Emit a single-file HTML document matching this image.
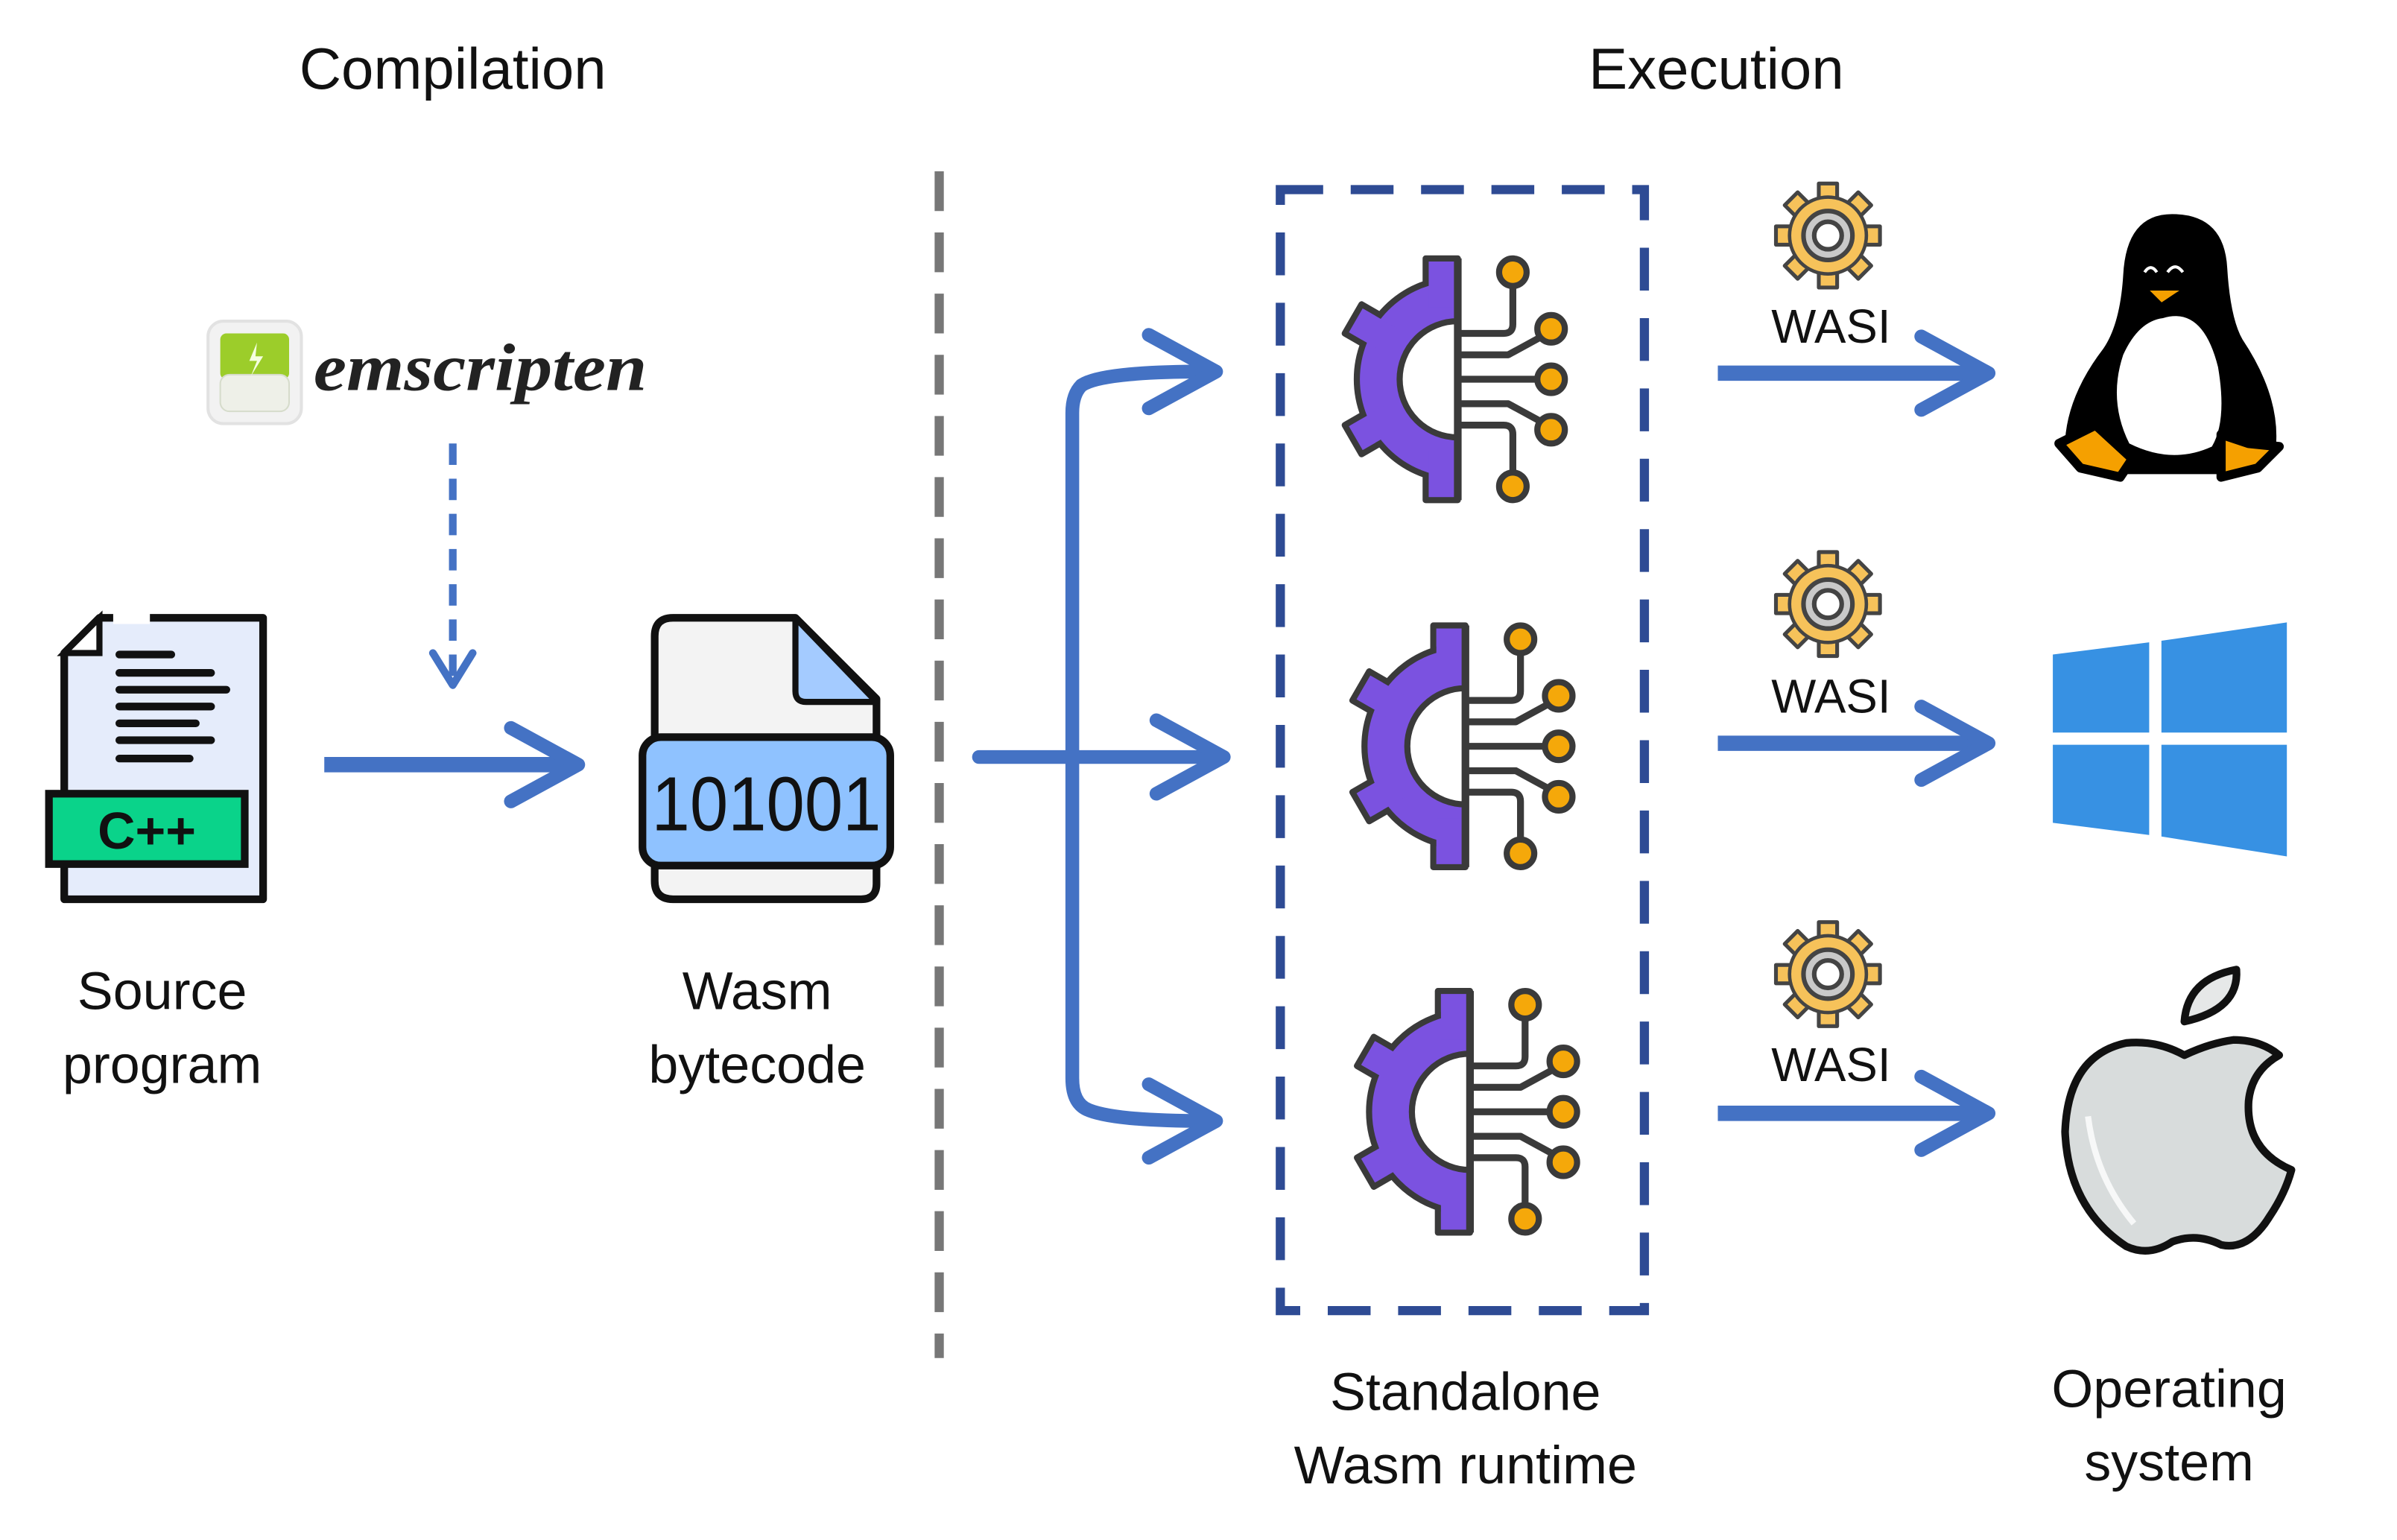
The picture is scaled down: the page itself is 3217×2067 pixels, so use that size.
<!DOCTYPE html>
<html><head><meta charset="utf-8"><style>
html,body{margin:0;padding:0;background:#fff;}
svg{display:block;}
text{font-family:"Liberation Sans",sans-serif;fill:#111;}
</style></head><body>
<svg width="3217" height="2067" viewBox="0 0 1567 1007" preserveAspectRatio="none" xmlns="http://www.w3.org/2000/svg">
<defs>
<g id="gear">
  <g fill="#7b52e0" stroke="#3a3a3a" stroke-width="4" stroke-linejoin="round">
    <rect x="-79" y="-11" width="26" height="22" transform="rotate(30)"/>
    <rect x="-79" y="-11" width="26" height="22" transform="rotate(-30)"/>
    <rect x="-21" y="-79" width="21" height="28"/>
    <rect x="-21" y="51" width="21" height="28"/>
    <path d="M0,-66 A66,66 0 0 0 0,66 L0,38 A38,38 0 0 1 0,-38 Z"/>
  </g>
  <g fill="#7b52e0">
    <rect x="-76" y="-9" width="25" height="18" transform="rotate(30)"/>
    <rect x="-76" y="-9" width="25" height="18" transform="rotate(-30)"/>
    <rect x="-19" y="-77" width="17" height="30"/>
    <rect x="-19" y="47" width="17" height="30"/>
  </g>
  <line x1="0" y1="-79" x2="0" y2="79" stroke="#3a3a3a" stroke-width="5"/>
  <g fill="none" stroke="#3a3a3a" stroke-width="4.5" stroke-linejoin="round">
    <path d="M0,-30 H30 Q36,-30 36,-36 V-60"/>
    <path d="M0,-16 H33 L55,-28"/>
    <path d="M0,0 H52"/>
    <path d="M0,16 H33 L55,28"/>
    <path d="M0,30 H30 Q36,30 36,36 V60"/>
  </g>
  <g fill="#f5a80a" stroke="#3a3a3a" stroke-width="4">
    <circle cx="36" cy="-70" r="9"/>
    <circle cx="61" cy="-33" r="9"/>
    <circle cx="61" cy="0" r="9"/>
    <circle cx="61" cy="33" r="9"/>
    <circle cx="36" cy="70" r="9"/>
  </g>
</g>
<g id="wasi">
  <g fill="#f6c25a" stroke="#444" stroke-width="2.5" stroke-linejoin="round">
    <rect x="-6" y="-34" width="12" height="14"/>
    <rect x="-6" y="-34" width="12" height="14" transform="rotate(45)"/>
    <rect x="-6" y="-34" width="12" height="14" transform="rotate(90)"/>
    <rect x="-6" y="-34" width="12" height="14" transform="rotate(135)"/>
    <rect x="-6" y="-34" width="12" height="14" transform="rotate(180)"/>
    <rect x="-6" y="-34" width="12" height="14" transform="rotate(225)"/>
    <rect x="-6" y="-34" width="12" height="14" transform="rotate(270)"/>
    <rect x="-6" y="-34" width="12" height="14" transform="rotate(315)"/>
    <circle r="25"/>
  </g>
  <circle r="24" fill="#f6c25a"/>
  <circle r="16" fill="#c9c9c9" stroke="#444" stroke-width="3"/>
  <circle r="9" fill="#fff" stroke="#444" stroke-width="3"/>
</g>
<g id="head" fill="none" stroke="#4472c4" stroke-width="9" stroke-linecap="round" stroke-linejoin="round">
  <path d="M-44,-24 L0,0 L-44,24"/>
</g>
</defs>

<text x="296" y="58" font-size="38" text-anchor="middle">Compilation</text>
<text x="1122" y="58" font-size="38" text-anchor="middle">Execution</text>

<line x1="614" y1="112" x2="614" y2="888" stroke="#777" stroke-width="6" stroke-dasharray="26,14"/>
<rect x="837" y="124" width="238" height="733" fill="none" stroke="#2e4b94" stroke-width="6" stroke-dasharray="28,18"/>

<!-- emscripten -->
<rect x="136" y="210" width="61" height="67" rx="10" fill="#f2f2f2" stroke="#e2e2e2" stroke-width="2"/>
<rect x="144" y="218" width="45" height="30" rx="4" fill="#9ccd2a"/>
<rect x="144" y="245" width="45" height="24" rx="6" fill="#eef0e8" stroke="#d6dccb"/>
<path d="M168,224 L163,236 L168,236 L164,246 L172,233 L167,233 Z" fill="#f5ffe0"/>
<text x="205" y="255" font-size="44" font-weight="bold" font-style="italic" style="fill:#222;font-family:'Liberation Serif',serif" textLength="218" lengthAdjust="spacingAndGlyphs">emscripten</text>

<line x1="296" y1="290" x2="296" y2="445" stroke="#4472c4" stroke-width="5" stroke-dasharray="14,9"/>
<path d="M283,427 L296,448 L309,427" fill="none" stroke="#4472c4" stroke-width="5" stroke-linecap="round" stroke-linejoin="round"/>

<!-- source doc -->
<path d="M65,404 H172 V588 H42 V427 Z" fill="#e5ecfb" stroke="#111" stroke-width="5" stroke-linejoin="round"/>
<path d="M42,427 L65,404 V427 Z" fill="#fff" stroke="#111" stroke-width="4"/>
<rect x="74" y="398" width="24" height="10" fill="#fff"/>
<g stroke="#111" stroke-width="5" stroke-linecap="round">
  <line x1="78" y1="428" x2="112" y2="428"/>
  <line x1="78" y1="440" x2="138" y2="440"/>
  <line x1="78" y1="451" x2="148" y2="451"/>
  <line x1="78" y1="462" x2="138" y2="462"/>
  <line x1="78" y1="473" x2="128" y2="473"/>
  <line x1="78" y1="484" x2="138" y2="484"/>
  <line x1="78" y1="496" x2="124" y2="496"/>
</g>
<rect x="32" y="519" width="128" height="46" fill="#0ad38a" stroke="#111" stroke-width="5"/>
<text x="96" y="555" font-size="34" font-weight="bold" text-anchor="middle" style="fill:#111">C++</text>

<line x1="212" y1="500" x2="372" y2="500" stroke="#4472c4" stroke-width="10"/>
<use href="#head" x="378" y="500"/>

<!-- wasm file -->
<path d="M440,404 H520 L573,457 V578 Q573,588 563,588 H440 Q428,588 428,576 V416 Q428,404 440,404 Z" fill="#f3f3f3" stroke="#111" stroke-width="5" stroke-linejoin="round"/>
<path d="M520,404 V452 Q520,459 527,459 H573 Z" fill="#a4cbff" stroke="#111" stroke-width="4" stroke-linejoin="round"/>
<rect x="420" y="482" width="162" height="84" rx="12" fill="#8fc2ff" stroke="#111" stroke-width="5"/>
<text x="501" y="543" font-size="50" text-anchor="middle" style="fill:#111" textLength="150" lengthAdjust="spacingAndGlyphs">101001</text>

<text x="106" y="660" font-size="35" text-anchor="middle">Source</text>
<text x="106" y="708" font-size="35" text-anchor="middle">program</text>
<text x="495" y="660" font-size="35" text-anchor="middle">Wasm</text>
<text x="495" y="708" font-size="35" text-anchor="middle">bytecode</text>

<!-- branch -->
<g fill="none" stroke="#4472c4" stroke-width="9" stroke-linecap="round">
  <line x1="640" y1="495" x2="795" y2="495"/>
  <path d="M788,243 Q720,243 707,252 Q701,258 701,270 V705 Q701,722 712,726 Q730,733 788,733"/>
</g>
<use href="#head" x="795" y="243"/>
<use href="#head" x="800" y="495"/>
<use href="#head" x="795" y="733"/>

<use href="#gear" x="953" y="248"/>
<use href="#gear" x="958" y="488"/>
<use href="#gear" x="961" y="727"/>

<use href="#wasi" x="1195" y="154"/>
<use href="#wasi" x="1195" y="395"/>
<use href="#wasi" x="1195" y="637"/>
<text x="1197" y="224" font-size="31" text-anchor="middle">WASI</text>
<text x="1197" y="466" font-size="31" text-anchor="middle">WASI</text>
<text x="1197" y="707" font-size="31" text-anchor="middle">WASI</text>

<g stroke="#4472c4" stroke-width="10">
  <line x1="1123" y1="244" x2="1294" y2="244"/>
  <line x1="1123" y1="486" x2="1294" y2="486"/>
  <line x1="1123" y1="728" x2="1294" y2="728"/>
</g>
<use href="#head" x="1300" y="244"/>
<use href="#head" x="1300" y="486"/>
<use href="#head" x="1300" y="728"/>

<!-- tux -->
<path d="M1420,140 Q1454,140 1456,175 Q1458,208 1466,222 Q1490,258 1488,290 L1470,310 L1370,310 L1350,288 Q1352,258 1375,228 Q1386,212 1388,180 Q1390,140 1420,140 Z" fill="#000"/>
<path d="M1414,208 Q1440,200 1450,240 Q1456,275 1446,292 Q1420,304 1392,290 Q1378,262 1388,232 Q1398,210 1414,208 Z" fill="#fff"/>
<path d="M1403,189 L1428,189 L1413,199 Z" fill="#f5a000" stroke="#000" stroke-width="2" stroke-linejoin="round"/>
<path d="M1402,178 q4,-6 8,0" fill="none" stroke="#fff" stroke-width="2"/>
<path d="M1417,178 q5,-7 10,0" fill="none" stroke="#fff" stroke-width="2"/>
<path d="M1346,290 L1370,278 L1394,300 L1386,312 L1360,306 Z" fill="#f5a000" stroke="#000" stroke-width="6" stroke-linejoin="round"/>
<path d="M1452,284 L1470,290 L1490,292 L1476,306 L1452,312 Z" fill="#f5a000" stroke="#000" stroke-width="6" stroke-linejoin="round"/>

<!-- windows -->
<g fill="#3791e3">
  <path d="M1342,428 L1405,420 V479 H1342 Z"/>
  <path d="M1413,419 L1495,407 V479 H1413 Z"/>
  <path d="M1342,487 H1405 V546 L1342,538 Z"/>
  <path d="M1413,487 H1495 V560 L1413,547 Z"/>
</g>

<!-- apple -->
<path d="M1428,690 Q1410,680 1390,682 Q1352,690 1350,740 Q1352,790 1390,815 Q1405,822 1420,812 Q1436,806 1452,814 Q1470,818 1484,795 Q1494,780 1498,765 Q1468,752 1470,720 Q1472,700 1490,690 Q1478,680 1460,680 Q1445,682 1428,690 Z" fill="#d8dcdc" stroke="#111" stroke-width="5" stroke-linejoin="round"/>
<path d="M1365,730 Q1370,770 1395,800" fill="none" stroke="#fff" stroke-width="4" opacity="0.8"/>
<path d="M1428,668 Q1430,640 1462,634 Q1464,660 1428,668 Z" fill="#e6e8e8" stroke="#111" stroke-width="5" stroke-linejoin="round"/>

<text x="958" y="922" font-size="35" text-anchor="middle">Standalone</text>
<text x="958" y="970" font-size="35" text-anchor="middle">Wasm runtime</text>
<text x="1418" y="920" font-size="35" text-anchor="middle">Operating</text>
<text x="1418" y="968" font-size="35" text-anchor="middle">system</text>
</svg>
</body></html>
